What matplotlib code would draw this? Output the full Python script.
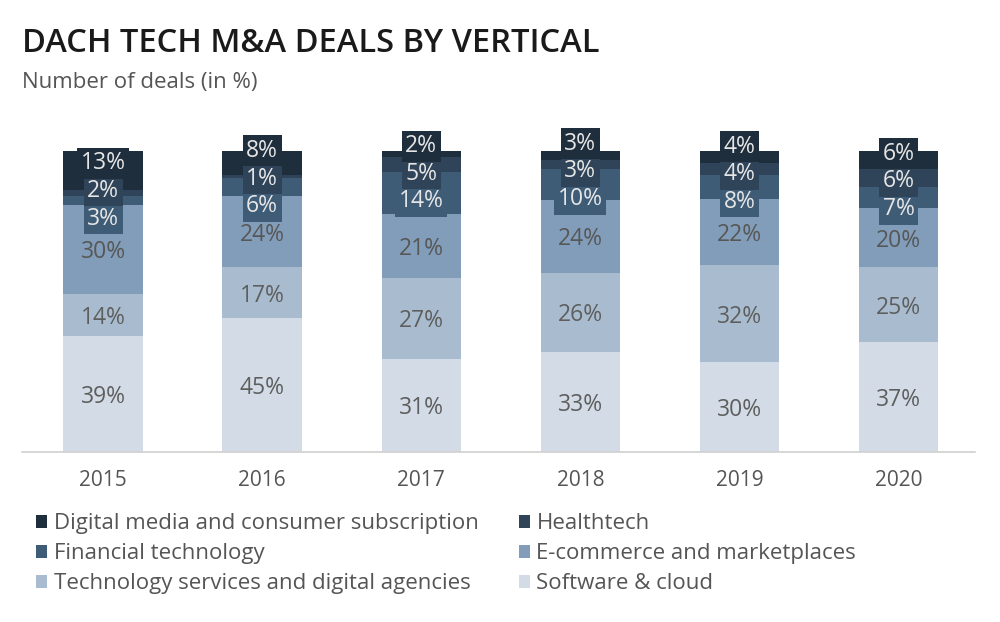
import numpy as np
import matplotlib
matplotlib.use("Agg")
import matplotlib.pyplot as plt

plt.rcParams['font.family'] = ['Open Sans', 'DejaVu Sans']

years = ["2015", "2016", "2017", "2018", "2019", "2020"]
# stacked bottom -> top
categories = ["Software & cloud",
              "Technology services and digital agencies",
              "E-commerce and marketplaces",
              "Financial technology",
              "Healthtech",
              "Digital media and consumer subscription"]
software = [39, 45, 31, 33, 30, 37]
tech_services = [14, 17, 27, 26, 32, 25]
ecommerce = [30, 24, 21, 24, 22, 20]
fintech = [3, 6, 14, 10, 8, 7]
healthtech = [2, 1, 5, 3, 4, 6]
digital_media = [13, 8, 2, 3, 4, 6]

series = [software, tech_services, ecommerce, fintech, healthtech, digital_media]
colors = ["#d3dce6", "#a9bccf", "#819db9", "#3f5c77", "#2f4459", "#1f2e3d"]
text_colors = ["#5e5e5e", "#5e5e5e", "#575757", "#e6e6e6", "#e6e6e6", "#e6e6e6"]

fig = plt.figure(figsize=(10, 6.22), dpi=100)
ax = fig.add_axes([0.022, 0.2733, 0.953, 0.532])

x = np.arange(len(years))
vals = np.array(series, dtype=float)
# each bar is drawn as shares of 100 (labels keep the rounded values)
shares = vals / vals.sum(axis=0) * 100
bottoms = np.vstack([np.zeros(len(years)), np.cumsum(shares, axis=0)[:-1]])

bars = []
for i, (v, c) in enumerate(zip(shares, colors)):
    b = ax.bar(x, v, width=0.5, bottom=bottoms[i], color=c, label=categories[i],
               edgecolor="none", zorder=2)
    bars.append(b)

# label positions: segment centres, pushed apart so they don't overlap
min_gap = 9.2
for j in range(len(years)):
    pos = list(bottoms[:, j] + shares[:, j] / 2)
    for _ in range(300):
        for k in range(len(pos) - 1):
            gap = pos[k + 1] - pos[k]
            if gap < min_gap:
                d = (min_gap - gap) / 2
                pos[k] -= d
                pos[k + 1] += d
    for i in range(len(pos)):
        ax.text(x[j], pos[i] - 1.0, f"{int(vals[i, j])}%", ha="center", va="center",
                fontsize=16.5, color=text_colors[i], zorder=3 + i,
                bbox=dict(boxstyle="square,pad=0.15", fc=colors[i], ec="none"))

ax.set_xlim(-0.51, 5.48)
ax.set_ylim(0, 110)
ax.set_xticks(x)
ax.set_xticklabels(years, fontsize=15, color="#555555")
ax.tick_params(axis="x", length=0, pad=13)
ax.set_yticks([])
for s in ["top", "left", "right"]:
    ax.spines[s].set_visible(False)
ax.spines["bottom"].set_color("#d0d0d0")
ax.spines["bottom"].set_linewidth(1.2)

fig.text(0.022, 0.93, "DACH TECH M&A DEALS BY VERTICAL", fontsize=23.5,
         fontweight="semibold", color="#1a1a1a", va="center")
fig.text(0.022, 0.868, "Number of deals (in %)", fontsize=16, color="#555555",
         va="center")

order = [5, 3, 1, 4, 2, 0]
handles = [bars[i] for i in order]
labels = [categories[i] for i in order]
fig.legend(handles, labels, ncol=2, loc="upper left", bbox_to_anchor=(0.036, 0.175),
           frameon=False, fontsize=16, labelcolor="#555555",
           handlelength=0.5, handleheight=0.5, handletextpad=0.3,
           columnspacing=1.8, labelspacing=0.41, borderpad=0, borderaxespad=0)

fig.savefig("out.png", dpi=100, facecolor="white")
